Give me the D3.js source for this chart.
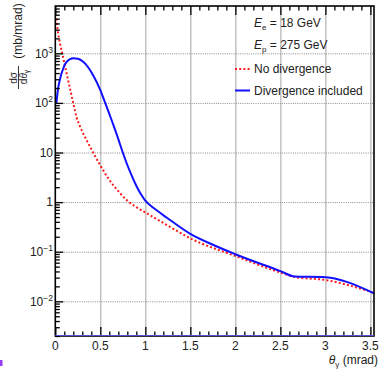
<!DOCTYPE html>
<html><head><meta charset="utf-8">
<script src="https://cdn.jsdelivr.net/npm/d3@7"></script>
<style>body{margin:0;background:#fff} svg{display:block;font-family:"Liberation Sans",Arial,Helvetica,sans-serif}</style>
</head><body><svg id="c" width="380" height="369"></svg>
<script>
// ---- data ----
const thetaNoDiv = [0.012,0.03,0.052,0.078,0.115,0.163,0.2,0.237,0.27,0.3,0.35,0.4,0.45,0.5,0.6,0.7,0.8,0.9,1.0,1.236,1.5,2.0,2.5,2.66,3.0,3.54];
const sigmaNoDiv = [5000,2630,1585,977,479,195,98,51,35,26.3,17.4,11.7,7.9,5.5,2.8,1.66,1.07,0.79,0.62,0.347,0.186,0.0818,0.038,0.0309,0.0269,0.0148];
const thetaDiv = [0.012,0.03,0.05,0.089,0.126,0.2,0.25,0.31,0.42,0.5,0.55,0.6,0.65,0.7,0.75,0.8,0.85,0.9,0.95,1.0,1.1,1.236,1.5,1.75,2.0,2.5,2.66,2.97,3.54];
const sigmaDiv = [100,190,290,500,676,795,776,676,363,182,105,60,34,18.6,10,5.6,3.39,2.14,1.45,1.07,0.74,0.49,0.229,0.138,0.089,0.0407,0.0316,0.0309,0.0145];
const xMajorTicks = [0,0.5,1,1.5,2,2.5,3,3.5];
const xTickLabels = ["0","0.5","1","1.5","2","2.5","3","3.5"];
const yMajorTicks = [0.01,0.1,1,10,100,1000];
const yTickBase = ["10","10","1","10","10","10"];
const yTickExp = ["\u22122","\u22121","","","2","3"];
const legendLabels = ["No divergence","Divergence included"];
const beamLabels = [["E","e"," = 18 GeV"],["E","p"," = 275 GeV"]];

const svg = d3.select("#c");
const L = 55.3, R = 374, T = 6, B = 336;
const x = d3.scaleLinear().domain([0, 3.54]).range([L, R]);
const y = d3.scaleLog().domain([Math.pow(10,-2.6996), Math.pow(10,3.954)]).range([B, T]);

// grid
const gx = svg.append("g").attr("transform",`translate(0,${B})`)
  .call(d3.axisBottom(x).tickValues(xMajorTicks.slice(1)).tickSize(-(B-T)).tickFormat(""));
gx.select(".domain").remove();
gx.selectAll("line").attr("stroke","#9a9a9a").attr("stroke-width",0.9);
const gy = svg.append("g").attr("transform",`translate(${L},0)`)
  .call(d3.axisLeft(y).tickValues(yMajorTicks).tickSize(-(R-L)).tickFormat(""));
gy.select(".domain").remove();
gy.selectAll("line").attr("stroke","#8a8a8a").attr("stroke-width",1).attr("stroke-dasharray","1,1.2");

// curves
const line = d3.line().x(d=>x(d[0])).y(d=>y(d[1])).curve(d3.curveMonotoneX);
svg.append("path").datum(d3.zip(thetaNoDiv, sigmaNoDiv))
  .attr("d", line).attr("fill","none").attr("stroke","#ff1a1a").attr("stroke-width",2)
  .attr("stroke-dasharray","2,2.2");
svg.append("path").datum(d3.zip(thetaDiv, sigmaDiv))
  .attr("d", line).attr("fill","none").attr("stroke","#1010ff").attr("stroke-width",2);

// axes ticks
function styleAxis(g){ g.select(".domain").remove(); g.selectAll("line").attr("stroke","#000").attr("stroke-width",1.3); }
const xMinor = d3.range(1,36).map(i=>i/10).filter(v=>Math.abs(v*2-Math.round(v*2))>1e-6);
svg.append("g").attr("transform",`translate(0,${B})`).call(d3.axisBottom(x).tickValues(xMajorTicks).tickSize(-9).tickFormat("")).call(styleAxis);
svg.append("g").attr("transform",`translate(0,${B})`).call(d3.axisBottom(x).tickValues(xMinor).tickSize(-4.5).tickFormat("")).call(styleAxis);
svg.append("g").attr("transform",`translate(0,${T})`).call(d3.axisTop(x).tickValues(xMajorTicks).tickSize(-9).tickFormat("")).call(styleAxis);
svg.append("g").attr("transform",`translate(0,${T})`).call(d3.axisTop(x).tickValues(xMinor).tickSize(-4.5).tickFormat("")).call(styleAxis);
const yMinor = [];
for (let e=-3;e<=3;e++) for (let k=2;k<=9;k++){ const v=k*Math.pow(10,e); if (v>y.domain()[0] && v<y.domain()[1]) yMinor.push(v); }
svg.append("g").attr("transform",`translate(${L},0)`).call(d3.axisLeft(y).tickValues(yMajorTicks).tickSize(-8).tickFormat("")).call(styleAxis);
svg.append("g").attr("transform",`translate(${L},0)`).call(d3.axisLeft(y).tickValues(yMinor).tickSize(-4.5).tickFormat("")).call(styleAxis);

// frame
svg.append("rect").attr("x",L).attr("y",T).attr("width",R-L).attr("height",B-T)
  .attr("fill","none").attr("stroke","#000").attr("stroke-width",1.6);
svg.append("line").attr("x1",L).attr("x2",R).attr("y1",B-0.5).attr("y2",B-0.5)
  .attr("stroke","#5a50d8").attr("stroke-width",1.2);

// x tick labels
svg.append("g").selectAll("text").data(xMajorTicks).join("text")
  .attr("x",d=>x(d)).attr("y",B+14).attr("text-anchor","middle")
  .attr("font-size",12).attr("fill","#222").text((d,i)=>xTickLabels[i]);

// y tick labels
const yl = svg.append("g").selectAll("text").data(yMajorTicks).join("text")
  .attr("x",53).attr("y",d=>y(d)+4.3).attr("text-anchor","end")
  .attr("font-size",12).attr("fill","#222");
yl.append("tspan").text((d,i)=>yTickBase[i]);
yl.append("tspan").attr("dy",-5).attr("font-size",8.5).text((d,i)=>yTickExp[i]);

// x axis title
const xt = svg.append("text").attr("x",378).attr("y",364).attr("text-anchor","end").attr("font-size",12).attr("fill","#222");
xt.append("tspan").attr("font-style","italic").text("\u03b8");
xt.append("tspan").attr("font-size",8).attr("dy",3).text("\u03b3");
xt.append("tspan").attr("dy",-3).text(" (mrad)");

// y axis title
function rot(sel, px, py){ return sel.attr("transform",`translate(${px},${py}) rotate(-90)`); }
rot(svg.append("text"),22,31).attr("text-anchor","middle").attr("font-size",12).attr("fill","#222").text("(mb/mrad)");
rot(svg.append("text"),16.5,78).attr("text-anchor","middle").attr("font-size",10).attr("fill","#222").text("d\u03c3");
svg.append("line").attr("x1",18.5).attr("x2",18.5).attr("y1",66).attr("y2",89).attr("stroke","#222").attr("stroke-width",0.9);
const den = rot(svg.append("text"),27,77).attr("text-anchor","middle").attr("font-size",10).attr("fill","#222");
den.append("tspan").text("d");
den.append("tspan").attr("font-style","italic").text("\u03b8");
den.append("tspan").attr("font-size",6.5).attr("dy",2).text("\u03b3");

// legend
beamLabels.forEach((b,i)=>{
  const t = svg.append("text").attr("x",254).attr("y",27+i*22).attr("font-size",12).attr("fill","#222");
  t.append("tspan").attr("font-style","italic").text(b[0]);
  t.append("tspan").attr("font-size",8).attr("dy",3).text(b[1]);
  t.append("tspan").attr("dy",-3).text(b[2]);
});
const legColors = ["#ff1a1a","#1010ff"], legDash = ["2,2.2",null];
legendLabels.forEach((lab,i)=>{
  const yy = 69 + i*21.5;
  svg.append("line").attr("x1",235).attr("x2",250).attr("y1",yy).attr("y2",yy)
    .attr("stroke",legColors[i]).attr("stroke-width",2).attr("stroke-dasharray",legDash[i]);
  svg.append("text").attr("x",254).attr("y",yy+4.3).attr("font-size",12).attr("fill","#222").text(lab);
});

// small purple mark at lower left
svg.append("rect").attr("x",0).attr("y",360).attr("width",2.5).attr("height",6).attr("fill","#9a3cf0");
</script></body></html>
